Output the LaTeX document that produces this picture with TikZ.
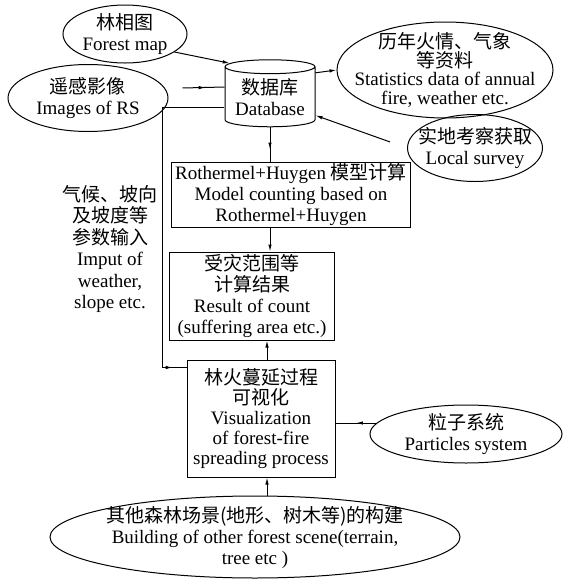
\documentclass[tikz,border=0pt]{standalone}
\usepackage{fontspec}
\setmainfont{Liberation Serif}
\newfontfamily\cjk{Noto Sans CJK SC}
\usetikzlibrary{shapes.geometric}
\usetikzlibrary{arrows.meta}
\usetikzlibrary{decorations.markings}
\usetikzlibrary{calc}
\tikzset{%
  base/.style={draw, line width=1pt, align=center, inner sep=0pt,
    font=\fontsize{19}{21}\selectfont},
  source/.style={base, ellipse, inner xsep=-20pt, inner ysep=-8pt},% data sources and tools
  stepbox/.style={base, rectangle},% computing steps
  store/.style={base, cylinder, shape border rotate=90, aspect=.2},% database
  link/.style={line width=1pt, >={Latex[length=7pt,width=3.5pt]}},
  midarrow/.style={link, postaction={decorate},
    decoration={markings, mark=at position #1 with {\arrow{>}}}},
  midarrow/.default=.55
}
\newcommand*{\zh}[1]{{\cjk #1}}

\begin{document}
\begin{tikzpicture}[x=1pt, y=-1pt]
  \useasboundingbox (0,0) rectangle (564,579);
  % Sources around the database:
  \node[source, minimum width=124, minimum height=58] (map) at (125,34)
    {\zh{林相图}\\Forest map};
  \node[source, minimum width=160, minimum height=67] (rs) at (88,98)
    {\zh{遥感影像}\\Images of RS};
  \node[store, minimum width=90, minimum height=67] (db) at (270,97)
    {\zh{数据库}\\Database};
  \node[source, minimum width=216, minimum height=96,
    font=\fontsize{19}{18.5}\selectfont] (stats) at (445,70)
    {\zh{历年火情、气象}\\\zh{等资料}\\Statistics data of annual\\fire, weather etc.};
  \node[source, minimum width=135, minimum height=67] (survey) at (475,148)
    {\zh{实地考察获取}\\Local survey};
  % The computing chain:
  \node[stepbox, minimum width=239, minimum height=65] (model) at (291,194.5)
    {Rothermel+Huygen \zh{模型计算}\\Model counting based on\\Rothermel+Huygen};
  \node[stepbox, minimum width=165, minimum height=88] (result) at (252,296)
    {\zh{受灾范围等}\\\zh{计算结果}\\Result of count\\(suffering area etc.)};
  \node[stepbox, minimum width=148, minimum height=117,
    font=\fontsize{19}{20}\selectfont] (vis) at (261,418.5)
    {\zh{林火蔓延过程}\\\zh{可视化}\\Visualization\\of forest-fire\\spreading process};
  \node[source, minimum width=192, minimum height=58] (part) at (466,434)
    {\zh{粒子系统}\\Particles system};
  \node[source, minimum width=410, minimum height=82] (scene) at (255,537)
    {\zh{其他森林场景(地形、树木等)的构建}\\Building of other forest scene(terrain,\\tree etc )};
  \node[align=center, font=\fontsize{19}{21.5}\selectfont] (input) at (110,249)
    {\zh{气候、坡向}\\\zh{及坡度等}\\\zh{参数输入}\\Imput of\\weather,\\slope etc.};
  % Connectors:
  \draw[link, ->] (map.-20) -- (db.140);
  \draw[midarrow] ([xshift=14pt, yshift=10pt]rs.east) -- ([yshift=10pt]db.west);
  \draw[link, ->] (db.28) -- (stats.west);
  \draw[link, ->, shorten <=18pt] (survey.west) -- (db.-22);
  \draw[midarrow=.65] (db.south) -- (db.south |- model.north);
  \draw[link, ->] (db.south |- model.south) -- (db.south |- result.north);
  \draw[link, ->] ([xshift=-3pt]db.south |- vis.north) -- ([xshift=-3pt]db.south |- result.south);
  \draw[link, ->] ([xshift=-3pt]db.south |- scene.north) -- ([xshift=-3pt]db.south |- vis.south);
  \draw[midarrow=.5] (part.173) -- (vis.east |- part.173);
  \draw[midarrow=.96] ([yshift=-11pt]db.west) -- ++(-62,0) |- ([yshift=-8pt]vis.north west);
\end{tikzpicture}
\end{document}
